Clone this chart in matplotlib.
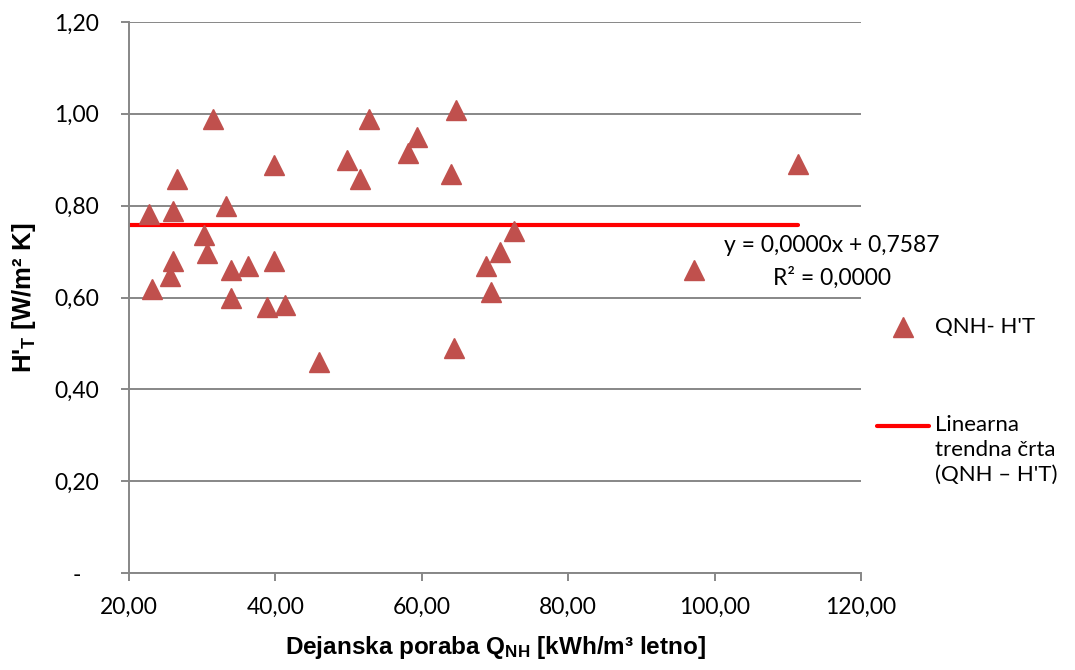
import matplotlib
matplotlib.use("Agg")
import matplotlib.pyplot as plt
from matplotlib.lines import Line2D
from matplotlib.ticker import FixedLocator, FuncFormatter
import numpy as np

# Measured data: actual heating consumption vs. transmission heat loss coefficient
q_nh = [22.8, 23.2, 25.6, 26.0, 26.05, 26.6, 30.3, 30.6, 31.5, 33.2,
        33.9, 34.0, 36.2, 38.9, 39.8, 39.85, 41.3, 46.0, 49.8, 51.6,
        52.8, 58.1, 59.3, 64.0, 64.4, 64.7, 68.8, 69.5, 70.7, 72.6,
        97.2, 111.4]
h_t = [0.782, 0.619, 0.647, 0.789, 0.679, 0.859, 0.737, 0.698, 0.989, 0.799,
       0.659, 0.600, 0.669, 0.579, 0.889, 0.679, 0.583, 0.460, 0.899, 0.859,
       0.989, 0.914, 0.949, 0.868, 0.490, 1.009, 0.668, 0.611, 0.699, 0.744,
       0.659, 0.891]

# Linear trend line coefficients as reported
trend_slope = 0.0000
trend_intercept = 0.7587
trend_r2 = 0.0000

x_ticks = [20, 40, 60, 80, 100, 120]
y_ticks = [0.0, 0.2, 0.4, 0.6, 0.8, 1.0, 1.2]

series_label = "QNH- H'T"
trend_label = "Linearna\ntrendna črta\n(QNH – H'T)"

plt.rcParams['mathtext.fontset'] = 'custom'
plt.rcParams['mathtext.rm'] = 'Liberation Sans:bold'
plt.rcParams['mathtext.it'] = 'Liberation Sans:bold'
plt.rcParams['mathtext.bf'] = 'Liberation Sans:bold'

W, H = 1075, 670
grid_col = '#878787'
marker_col = '#C0504D'
tick_size = 16.5
text_size = 16.5

fig = plt.figure(figsize=(W / 100, H / 100), dpi=100)
ax = fig.add_axes([129 / W, 1 - 573 / H, (861 - 129) / W, (573 - 22) / H])

ax.set_xlim(20, 120)
ax.set_ylim(0, 1.2)

ax.yaxis.set_major_locator(FixedLocator(y_ticks))
ax.xaxis.set_major_locator(FixedLocator(x_ticks))
ax.grid(axis='y', color=grid_col, linewidth=1.4, zorder=0)
ax.set_axisbelow(True)

for side in ('top', 'right'):
    ax.spines[side].set_visible(False)
for side in ('left', 'bottom'):
    ax.spines[side].set_color(grid_col)
    ax.spines[side].set_linewidth(1.4)


def y_fmt(v, pos):
    if abs(v) < 1e-9:
        return '-   '
    return f"{v:.2f}".replace('.', ',')


def x_fmt(v, pos):
    return f"{v:.2f}".replace('.', ',')


ax.yaxis.set_major_formatter(FuncFormatter(y_fmt))
ax.xaxis.set_major_formatter(FuncFormatter(x_fmt))
ax.tick_params(axis='both', color=grid_col, width=1.4, length=6, labelcolor='#000000')
ax.tick_params(axis='y', pad=15.5)
ax.tick_params(axis='x', pad=11)
for lbl in ax.get_xticklabels() + ax.get_yticklabels():
    lbl.set_fontfamily('Lato')
    lbl.set_fontsize(tick_size)

ax.plot(q_nh, h_t, linestyle='none', marker='^', markersize=14,
        color=marker_col, markeredgecolor=marker_col, zorder=3)

tx = np.array([20, max(q_nh)])
ax.plot(tx, trend_slope * tx + trend_intercept, color='#FF0000',
        linewidth=3, solid_capstyle='round', zorder=2)

# Trend line equation and coefficient of determination
eq_line = f"y = {trend_slope:.4f}x + {trend_intercept:.4f}".replace('.', ',')
r2_line = f"R² = {trend_r2:.4f}".replace('.', ',')
eq_x = (832 - 129) / 732
ax.text(eq_x, (573 - 246) / 551, eq_line, transform=ax.transAxes, ha='center',
        va='center', family='Lato', size=text_size)
ax.text(eq_x, (573 - 278) / 551, r2_line, transform=ax.transAxes, ha='center',
        va='center', family='Lato', size=text_size)

ax.set_xlabel("Dejanska poraba Q$_{NH}$ [kWh/m³ letno]", family='Liberation Sans',
              weight='bold', size=17.5, labelpad=12)
ax.set_ylabel("H'$_{T}$ [W/m² K]", family='Liberation Sans', weight='bold',
              size=18.5, labelpad=12)

# Legend, laid out to the right of the plot area
def fx(px):
    return px / W


def fy(py):
    return 1 - py / H


fig.add_artist(Line2D([fx(903)], [fy(327)], marker='^', markersize=14,
                      color=marker_col, linestyle='none'))
fig.text(fx(935), fy(327), series_label, family='Lato', size=16,
         ha='left', va='center')
fig.add_artist(Line2D([fx(877), fx(929)], [fy(426), fy(426)], color='#FF0000',
                      linewidth=3, solid_capstyle='round'))
fig.text(fx(935), fy(415), trend_label, family='Lato', size=16,
         ha='left', va='top', linespacing=1.3)

fig.savefig('out.png', dpi=100)
